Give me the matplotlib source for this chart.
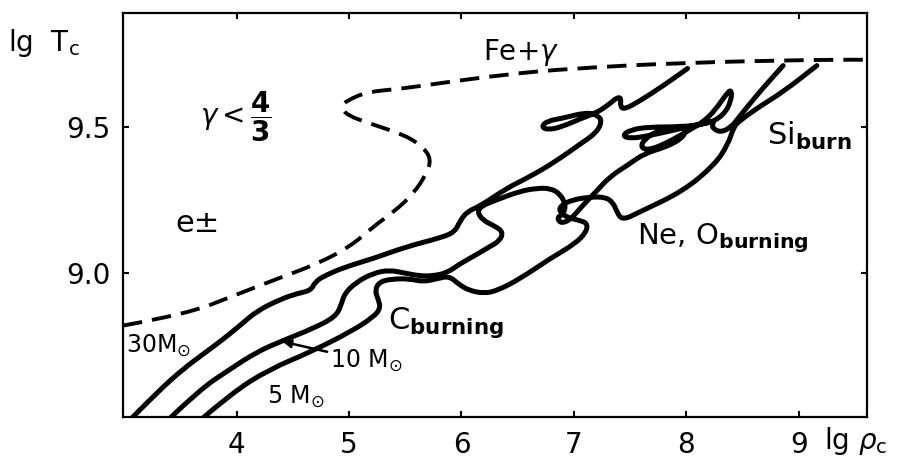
import numpy as np
import matplotlib.pyplot as plt
from matplotlib.path import Path
from matplotlib.patches import PathPatch

plt.rcParams['font.family'] = ['DejaVu Sans']
plt.rcParams['mathtext.fontset'] = 'dejavusans'

# --- tracks in the (lg rho_c, lg T_c) plane ---
m30_lgrho = [3.06, 3.29, 3.52, 3.73, 3.87, 4.03, 4.18, 4.39, 4.54, 4.66, 4.70, 4.78,
             4.96, 5.22, 5.51, 5.81, 5.94, 5.99, 6.05, 6.17, 6.40, 6.61, 6.83, 7.05,
             7.20, 7.25, 7.21, 7.11, 6.90, 6.76, 6.71, 6.77, 6.89, 7.07, 7.21, 7.32,
             7.38, 7.42, 7.41, 7.45, 7.59, 7.79, 8.01]
m30_lgT = [8.50, 8.59, 8.67, 8.73, 8.77, 8.82, 8.87, 8.91, 8.93, 8.94, 8.97, 8.99,
           9.02, 9.05, 9.09, 9.12, 9.14, 9.18, 9.21, 9.23, 9.29, 9.33, 9.38, 9.44,
           9.48, 9.52, 9.54, 9.55, 9.53, 9.52, 9.50, 9.49, 9.50, 9.53, 9.55, 9.58,
           9.60, 9.60, 9.57, 9.56, 9.59, 9.64, 9.70]

m10_lgrho = [3.40, 3.67, 3.94, 4.18, 4.42, 4.68, 4.88, 4.93, 4.96, 5.07, 5.22, 5.36,
             5.49, 5.63, 5.74, 5.87, 5.98, 6.12, 6.25, 6.34, 6.37, 6.30, 6.19, 6.14,
             6.18, 6.31, 6.52, 6.67, 6.79, 6.88, 6.93, 6.90, 6.85, 6.88, 6.96, 7.03,
             7.10, 7.20, 7.32, 7.48, 7.63, 7.81, 7.96, 8.00, 7.92, 7.76, 7.63,
             7.59, 7.67, 7.85, 8.03, 8.16, 8.26, 8.35, 8.40, 8.40, 8.33, 8.19, 7.94,
             7.67, 7.50, 7.43, 7.50, 7.67, 7.90, 8.12, 8.25, 8.22, 8.30, 8.40, 8.46,
             8.65, 8.86]
m10_lgT = [8.50, 8.60, 8.67, 8.73, 8.77, 8.81, 8.85, 8.89, 8.93, 8.97, 9.00, 9.01,
           9.00, 8.99, 8.99, 9.00, 9.03, 9.06, 9.09, 9.11, 9.14, 9.16, 9.18, 9.21,
           9.23, 9.25, 9.28, 9.29, 9.29, 9.27, 9.23, 9.20, 9.19, 9.17, 9.18, 9.21,
           9.24, 9.28, 9.33, 9.37, 9.41, 9.43, 9.46, 9.49, 9.50, 9.49, 9.46,
           9.43, 9.42, 9.45, 9.49, 9.52, 9.56, 9.61, 9.63, 9.59, 9.54, 9.51, 9.50,
           9.50, 9.49, 9.47, 9.46, 9.47, 9.49, 9.51, 9.52, 9.50, 9.48, 9.50, 9.53,
           9.62, 9.71]

m5_lgrho = [3.69, 3.96, 4.29, 4.66, 5.02, 5.22, 5.28, 5.26, 5.23, 5.27, 5.39, 5.54,
            5.66, 5.78, 5.89, 5.98, 6.07, 6.20, 6.32, 6.52, 6.79, 7.01, 7.11, 7.12,
            7.05, 6.94, 6.87, 6.88, 6.98, 7.14, 7.28, 7.35, 7.38, 7.43, 7.59, 7.97,
            8.25, 8.37, 8.42, 8.47, 8.65, 8.86, 9.16]
m5_lgT = [8.50, 8.59, 8.67, 8.73, 8.80, 8.85, 8.88, 8.91, 8.94, 8.97, 8.98, 8.98,
          8.97, 8.98, 8.99, 8.96, 8.94, 8.93, 8.94, 8.98, 9.05, 9.10, 9.14, 9.17,
          9.18, 9.19, 9.21, 9.23, 9.25, 9.26, 9.26, 9.24, 9.21, 9.18, 9.21, 9.28,
          9.37, 9.44, 9.50, 9.52, 9.57, 9.62, 9.71]

# gamma < 4/3 instability boundary (dashed)
gam_lgrho = [2.99, 3.56, 3.96, 4.36, 4.71, 5.01, 5.22, 5.40, 5.57, 5.69, 5.73, 5.66,
             5.51, 5.20, 4.98, 4.93, 4.98, 5.16, 5.45, 5.81, 6.40, 6.97, 7.97, 9.16,
             9.61]
gam_lgT = [8.82, 8.86, 8.92, 8.98, 9.03, 9.09, 9.16, 9.21, 9.27, 9.34, 9.39, 9.43,
           9.47, 9.51, 9.54, 9.57, 9.59, 9.62, 9.63, 9.65, 9.68, 9.70, 9.72, 9.73,
           9.73]

x_ticks = [4, 5, 6, 7, 8, 9]
y_ticks = [9.0, 9.5]
y_ticklabels = ['9.0', '9.5']


def smooth_path(xs, ys):
    # quadratic bezier through the read points (points act as control points)
    pts = np.column_stack([xs, ys])
    verts = [pts[0]]
    codes = [Path.MOVETO]
    for i in range(1, len(pts) - 1):
        verts += [pts[i], (pts[i] + pts[i + 1]) / 2]
        codes += [Path.CURVE3, Path.CURVE3]
    verts.append(pts[-1])
    codes.append(Path.LINETO)
    return Path(verts, codes)


fig = plt.figure(figsize=(9.04, 4.61), dpi=100)
ax = fig.add_axes([0.136, 0.0954, 0.823, 0.8764])

for xs, ys in [(m30_lgrho, m30_lgT), (m10_lgrho, m10_lgT), (m5_lgrho, m5_lgT)]:
    ax.add_patch(PathPatch(smooth_path(xs, ys), fill=False, edgecolor='black',
                           lw=3.6, joinstyle='round', capstyle='round'))

ax.add_patch(PathPatch(smooth_path(gam_lgrho, gam_lgT), fill=False,
                       edgecolor='black', lw=2.8, ls=(0, (5, 2.6))))

ax.set_xlim(2.99, 9.605)
ax.set_ylim(8.507, 9.89)
ax.set_xticks(x_ticks)
ax.set_xticklabels([str(t) for t in x_ticks])
ax.set_yticks(y_ticks)
ax.set_yticklabels(y_ticklabels)
ax.tick_params(direction='in', length=4, width=1.5, labelsize=20,
               top=True, right=True)
ax.tick_params(axis='x', pad=10)
ax.tick_params(axis='y', pad=9)
for sp in ax.spines.values():
    sp.set_linewidth(1.6)

# --- labels ---
fs = 20
ax.text(6.53, 9.755, r'Fe+$\gamma$', fontsize=fs, ha='center', va='center')
ax.text(3.99, 9.535, r'$\gamma<\dfrac{\mathbf{4}}{\mathbf{3}}$', fontsize=fs,
        ha='center', va='center')
ax.text(3.65, 9.17, 'e±', fontsize=22, ha='center', va='center')
ax.text(3.02, 8.75, r'30M$_{\odot}$', fontsize=17, ha='left', va='center')
ax.annotate(r'10 M$_{\odot}$', xy=(4.41, 8.765), xytext=(4.83, 8.70),
            fontsize=17, ha='left', va='center',
            arrowprops=dict(arrowstyle='-|>', color='black', lw=1.8,
                            mutation_scale=12, shrinkA=0, shrinkB=0))
ax.text(4.27, 8.575, r'5 M$_{\odot}$', fontsize=17, ha='left', va='center')
ax.text(5.35, 8.83, r'C$_{\mathbf{burning}}$', fontsize=22, ha='left', va='center')
ax.text(7.56, 9.12, r'Ne, O$_{\mathbf{burning}}$', fontsize=21, ha='left', va='center')
ax.text(8.72, 9.47, r'Si$_{\mathbf{burn}}$', fontsize=22, ha='left', va='center')

fig.text(0.009, 0.907, r'lg  T$_\mathrm{c}$', fontsize=20, ha='left', va='center')
fig.text(0.912, 0.043, r'lg $\rho_\mathrm{c}$', fontsize=20, ha='left', va='center')

fig.savefig('out.png', dpi=100)
